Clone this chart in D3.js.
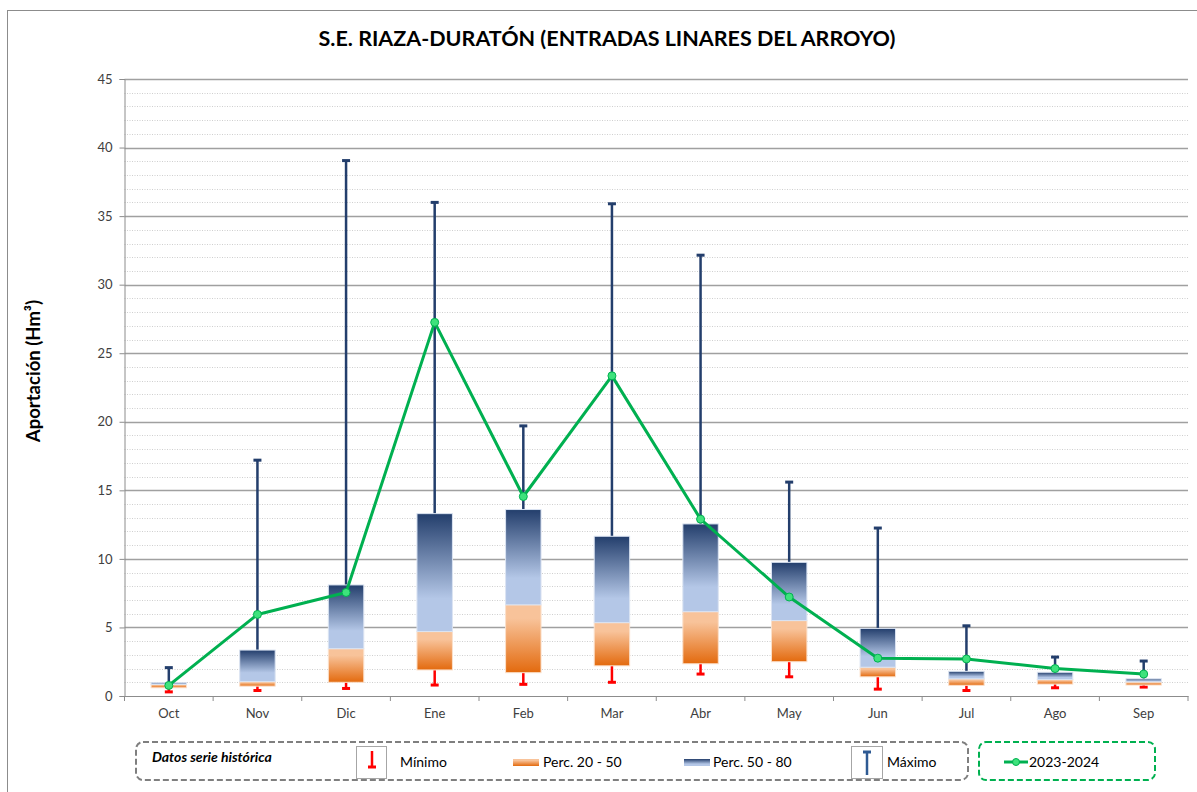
<!DOCTYPE html>
<html>
<head>
<meta charset="utf-8">
<script src="https://cdn.jsdelivr.net/npm/d3@7"></script>
<style>
    body { margin: 0; background: #fff; }
    svg { display: block; font-family: Lato, "Open Sans", sans-serif; }
</style>
</head>
<body>
<div id="chart"></div>
<script>

/* Data -------------------------------------------------------------------- */

const months = ["Oct", "Nov", "Dic", "Ene", "Feb", "Mar", "Abr", "May", "Jun", "Jul", "Ago", "Sep"];
const minimo = [0.3, 0.4, 0.55, 0.8, 0.85, 1.0, 1.6, 1.4, 0.5, 0.4, 0.6, 0.65];
const perc20 = [0.6, 0.72, 1.0, 1.9, 1.7, 2.2, 2.35, 2.5, 1.4, 0.78, 0.87, 0.8];
const perc50 = [0.85, 1.05, 3.45, 4.7, 6.65, 5.35, 6.15, 5.5, 2.1, 1.25, 1.2, 1.03];
const perc80 = [0.97, 3.35, 8.1, 13.3, 13.6, 11.65, 12.55, 9.75, 4.93, 1.8, 1.73, 1.25];
const maximo = [2.07, 17.2, 39.05, 36.0, 19.7, 35.9, 32.15, 15.6, 12.25, 5.12, 2.84, 2.55];
const serie = [0.77, 5.95, 7.55, 27.25, 14.55, 23.35, 12.9, 7.22, 2.76, 2.7, 2.0, 1.6];
const yTicks = [0, 5, 10, 15, 20, 25, 30, 35, 40, 45];

const titleText = "S.E. RIAZA-DURATÓN (ENTRADAS LINARES DEL ARROYO)";
const yTitleText = "Aportación (Hm³)";

const colors = {
    navy: "#233e6c",
    lightBlue: "#b4c7e7",
    lightOrange: "#f8c39a",
    darkOrange: "#e36a0e",
    red: "#ff0000",
    green: "#00b050",
    marker: "#3ee27c",
    grid: "#a0a0a0",
    minorGrid: "#cfcfcf",
    axis: "#8c8c8c",
    text: "#404040"
};

const data = months.map((m, i) => ({
    key: m, min: minimo[i], p20: perc20[i], p50: perc50[i],
    p80: perc80[i], max: maximo[i], value: serie[i]
}));

/* Draw graphic ------------------------------------------------------------ */

const width = 1197, height = 792;
const plot = { left: 124.5, right: 1188, top: 79, bottom: 696 };

const svg = d3.select("#chart")
    .append("svg")
    .attr("width", width)
    .attr("height", height);

svg.append("rect")
    .attr("width", width)
    .attr("height", height)
    .attr("fill", "#fff");

// Outer frame
svg.append("rect")
    .attr("x", 7.5)
    .attr("y", 10.5)
    .attr("width", 1260)
    .attr("height", 900)
    .attr("fill", "none")
    .attr("stroke", "#8c8c8c")
    .attr("stroke-width", 1);

// Gradients
const defs = svg.append("defs");

const blueGrad = defs.append("linearGradient")
    .attr("id", "blueGrad")
    .attr("x1", 0).attr("y1", 0).attr("x2", 0).attr("y2", 1);
blueGrad.append("stop").attr("offset", 0).attr("stop-color", colors.navy);
blueGrad.append("stop").attr("offset", 0.72).attr("stop-color", colors.lightBlue);
blueGrad.append("stop").attr("offset", 1).attr("stop-color", colors.lightBlue);

const orangeGrad = defs.append("linearGradient")
    .attr("id", "orangeGrad")
    .attr("x1", 0).attr("y1", 0).attr("x2", 0).attr("y2", 1);
orangeGrad.append("stop").attr("offset", 0).attr("stop-color", colors.lightOrange);
orangeGrad.append("stop").attr("offset", 0.2).attr("stop-color", colors.lightOrange);
orangeGrad.append("stop").attr("offset", 1).attr("stop-color", colors.darkOrange);

// Scales
const x = d3.scaleBand()
    .domain(months)
    .range([plot.left, plot.right])
    .padding(0);

const y = d3.scaleLinear()
    .domain([0, 45])
    .range([plot.bottom, plot.top]);

const boxW = x.bandwidth() * 0.4;
const cx = d => x(d.key) + x.bandwidth() / 2;

// Title
svg.append("text")
    .attr("x", 607)
    .attr("y", 46)
    .attr("text-anchor", "middle")
    .style("font-size", "21.5px")
    .style("font-weight", "bold")
    .style("fill", "#000")
    .text(titleText);

// Y-axis title
svg.append("text")
    .attr("transform", "translate(40,371) rotate(-90)")
    .attr("text-anchor", "middle")
    .style("font-size", "18.5px")
    .style("font-weight", "bold")
    .style("fill", "#000")
    .text(yTitleText);

// Gridlines: minor (dotted)
svg.append("g")
    .selectAll("line")
    .data(d3.range(1, 45).filter(v => v % 5 !== 0))
    .enter()
    .append("line")
    .attr("x1", plot.left).attr("x2", plot.right)
    .attr("y1", d => Math.round(y(d)) + 0.5)
    .attr("y2", d => Math.round(y(d)) + 0.5)
    .attr("stroke", colors.minorGrid)
    .attr("stroke-dasharray", "1,1.5");

// Gridlines: major
svg.append("g")
    .selectAll("line")
    .data(yTicks.filter(v => v > 0))
    .enter()
    .append("line")
    .attr("x1", plot.left).attr("x2", plot.right)
    .attr("y1", d => Math.round(y(d)) + 0.5)
    .attr("y2", d => Math.round(y(d)) + 0.5)
    .attr("stroke", colors.grid)
    .attr("stroke-width", 1.3);

// Y-axis
const yAxis = svg.append("g")
    .attr("class", "yaxis")
    .attr("transform", `translate(${plot.left},0)`)
    .call(d3.axisLeft(y).tickValues(yTicks).tickSize(5).tickPadding(7));

yAxis.select(".domain").attr("stroke", colors.axis);
yAxis.selectAll(".tick line").attr("stroke", colors.axis);
yAxis.selectAll(".tick text")
    .style("font-size", "13px")
    .style("font-family", "Lato, sans-serif")
    .style("fill", colors.text);

// X-axis
const xAxis = svg.append("g")
    .attr("class", "xaxis")
    .attr("transform", `translate(0,${plot.bottom})`)
    .call(d3.axisBottom(x).tickSize(0).tickPadding(13));

xAxis.select(".domain").attr("stroke", colors.axis);
xAxis.selectAll(".tick text")
    .style("font-size", "13px")
    .style("font-family", "Lato, sans-serif")
    .style("fill", colors.text);

// X-axis boundary ticks
svg.append("g")
    .selectAll("line")
    .data(months.map(m => x(m)).concat([plot.right]))
    .enter()
    .append("line")
    .attr("x1", d => d).attr("x2", d => d)
    .attr("y1", plot.bottom).attr("y2", plot.bottom + 5)
    .attr("stroke", colors.axis);

// Max whiskers
const maxG = svg.append("g");
maxG.selectAll("line.stem")
    .data(data)
    .enter()
    .append("line")
    .attr("x1", cx).attr("x2", cx)
    .attr("y1", d => y(d.p80)).attr("y2", d => y(d.max))
    .attr("stroke", colors.navy)
    .attr("stroke-width", 2.5);
maxG.selectAll("line.cap")
    .data(data)
    .enter()
    .append("line")
    .attr("x1", d => cx(d) - 4).attr("x2", d => cx(d) + 4)
    .attr("y1", d => y(d.max)).attr("y2", d => y(d.max))
    .attr("stroke", colors.navy)
    .attr("stroke-width", 3);

// Min whiskers
const minG = svg.append("g");
minG.selectAll("line.stem")
    .data(data)
    .enter()
    .append("line")
    .attr("x1", cx).attr("x2", cx)
    .attr("y1", d => y(d.p20)).attr("y2", d => y(d.min))
    .attr("stroke", colors.red)
    .attr("stroke-width", 2.5);
minG.selectAll("line.cap")
    .data(data)
    .enter()
    .append("line")
    .attr("x1", d => cx(d) - 4).attr("x2", d => cx(d) + 4)
    .attr("y1", d => y(d.min)).attr("y2", d => y(d.min))
    .attr("stroke", colors.red)
    .attr("stroke-width", 3);

// Boxes: Perc. 20 - 50
svg.append("g")
    .selectAll("rect")
    .data(data)
    .enter()
    .append("rect")
    .attr("x", d => cx(d) - boxW / 2)
    .attr("y", d => y(d.p50))
    .attr("width", boxW)
    .attr("height", d => y(d.p20) - y(d.p50))
    .attr("fill", "url(#orangeGrad)")
    .attr("stroke", "#fbe0cb")
    .attr("stroke-width", 1);

// Boxes: Perc. 50 - 80
svg.append("g")
    .selectAll("rect")
    .data(data)
    .enter()
    .append("rect")
    .attr("x", d => cx(d) - boxW / 2)
    .attr("y", d => y(d.p80))
    .attr("width", boxW)
    .attr("height", d => y(d.p50) - y(d.p80))
    .attr("fill", "url(#blueGrad)")
    .attr("stroke", "#dbe4f2")
    .attr("stroke-width", 1);

// 2023-2024 line
const line = d3.line()
    .x(cx)
    .y(d => y(d.value));

svg.append("path")
    .datum(data)
    .attr("d", line)
    .attr("fill", "none")
    .attr("stroke", colors.green)
    .attr("stroke-width", 3)
    .attr("stroke-linejoin", "round");

svg.append("g")
    .selectAll("circle")
    .data(data)
    .enter()
    .append("circle")
    .attr("cx", cx)
    .attr("cy", d => y(d.value))
    .attr("r", 4)
    .attr("fill", colors.marker)
    .attr("stroke", colors.green)
    .attr("stroke-width", 1);

/* Legend ------------------------------------------------------------------ */

const legend = svg.append("g").attr("class", "legend");

legend.append("rect")
    .attr("x", 136).attr("y", 742)
    .attr("width", 832).attr("height", 38)
    .attr("rx", 7)
    .attr("fill", "none")
    .attr("stroke", "#7f7f7f")
    .attr("stroke-width", 2)
    .attr("stroke-dasharray", "6,3");

legend.append("rect")
    .attr("x", 979).attr("y", 742)
    .attr("width", 176).attr("height", 38)
    .attr("rx", 7)
    .attr("fill", "none")
    .attr("stroke", colors.green)
    .attr("stroke-width", 2)
    .attr("stroke-dasharray", "6,3");

legend.append("text")
    .attr("x", 152).attr("y", 762)
    .style("font-size", "14px")
    .style("font-weight", "bold")
    .style("font-style", "italic")
    .style("fill", "#000")
    .text("Datos serie histórica");

// Mínimo icon
legend.append("rect")
    .attr("x", 356.5).attr("y", 746.5)
    .attr("width", 30).attr("height", 32)
    .attr("fill", "#fff")
    .attr("stroke", "#a6a6a6");
legend.append("line")
    .attr("x1", 372).attr("x2", 372)
    .attr("y1", 751).attr("y2", 767)
    .attr("stroke", colors.red).attr("stroke-width", 2.5);
legend.append("line")
    .attr("x1", 368).attr("x2", 376)
    .attr("y1", 767).attr("y2", 767)
    .attr("stroke", colors.red).attr("stroke-width", 3);

// Perc. 20 - 50 swatch
legend.append("rect")
    .attr("x", 513).attr("y", 759)
    .attr("width", 26).attr("height", 7)
    .attr("fill", "url(#orangeGrad)");

// Perc. 50 - 80 swatch
legend.append("rect")
    .attr("x", 684).attr("y", 759)
    .attr("width", 26).attr("height", 7)
    .attr("fill", "url(#blueGrad)");

// Máximo icon
legend.append("rect")
    .attr("x", 851.5).attr("y", 746.5)
    .attr("width", 31).attr("height", 32)
    .attr("fill", "#fff")
    .attr("stroke", "#a6a6a6");
legend.append("line")
    .attr("x1", 867).attr("x2", 867)
    .attr("y1", 752).attr("y2", 775)
    .attr("stroke", "#2e5a93").attr("stroke-width", 2.5);
legend.append("line")
    .attr("x1", 863).attr("x2", 871)
    .attr("y1", 752).attr("y2", 752)
    .attr("stroke", "#2e5a93").attr("stroke-width", 3);

// 2023-2024 icon
legend.append("line")
    .attr("x1", 1004).attr("x2", 1028)
    .attr("y1", 762).attr("y2", 762)
    .attr("stroke", colors.green).attr("stroke-width", 3);
legend.append("circle")
    .attr("cx", 1016).attr("cy", 762).attr("r", 3.5)
    .attr("fill", colors.marker)
    .attr("stroke", colors.green);

const legendTexts = [
    { x: 400, label: "Mínimo" },
    { x: 543, label: "Perc. 20 - 50" },
    { x: 713, label: "Perc. 50 - 80" },
    { x: 887, label: "Máximo" },
    { x: 1029, label: "2023-2024" }
];

legend.selectAll("text.item")
    .data(legendTexts)
    .enter()
    .append("text")
    .attr("class", "item")
    .attr("x", d => d.x)
    .attr("y", 767)
    .style("font-size", "14px")
    .style("fill", "#000")
    .text(d => d.label);

</script>
</body>
</html>
